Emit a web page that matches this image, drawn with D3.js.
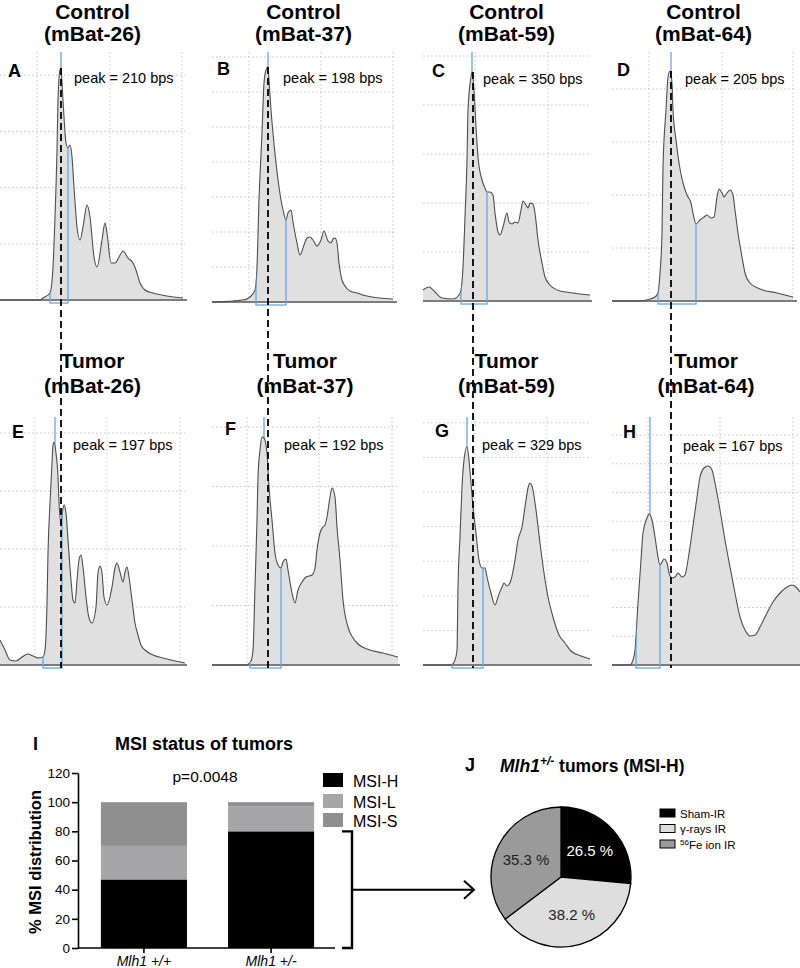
<!DOCTYPE html>
<html><head><meta charset="utf-8">
<script src="https://cdn.jsdelivr.net/npm/d3@7"></script>
<style>
body{margin:0;background:#fff;}
svg{display:block;font-family:"Liberation Sans",Arial,Helvetica,sans-serif;}
</style></head><body>
<svg id="fig" width="800" height="968"></svg>
<script>
// ================= DATA =================
const sampleIds = ["mBat-26","mBat-37","mBat-59","mBat-64"];
const controlPeaks = [210,198,350,205];
const tumorPeaks = [197,192,329,167];

// electropherogram traces: [scan position, signal (RFU/10)]
const traceA = [[0,0],[40,0],[43,2],[50,7],[53,33],[55,83],[57,150],[58,200],[60,230],[61,232],[62,217],[64,183],[66,157],[68,152],[70,155],[72,143],[74,113],[77,73],[80,60],[83,73],[87,95],[90,83],[94,43],[97,33],[102,60],[105,77],[107,67],[111,37],[115,37],[119,43],[123,49],[128,42],[133,37],[136,30],[140,17],[145,10],[153,7],[167,4],[183,2]];
const traceB = [[0,0],[31,2],[38,5],[43,12],[45,35],[47,102],[50,169],[52,219],[54,232],[56,235],[57,222],[59,192],[61,169],[64,139],[67,115],[71,92],[74,82],[76,89],[79,92],[81,80],[85,59],[88,47],[92,57],[95,64],[98,65],[101,62],[105,56],[109,62],[112,71],[116,61],[119,59],[121,63],[123,64],[125,59],[127,39],[130,22],[133,16],[138,11],[145,9],[155,6],[168,4],[181,3]];
const traceC = [[0,11],[6,14],[12,9],[19,3],[30,2],[36,6],[38,11],[40,34],[42,84],[44,141],[45,191],[48,224],[49,229],[51,211],[53,174],[55,144],[59,121],[62,113],[64,109],[67,109],[70,106],[72,88],[75,69],[77,66],[80,74],[84,88],[86,79],[89,77],[92,79],[95,78],[98,91],[100,100],[103,96],[105,93],[107,98],[110,97],[112,88],[115,61],[119,38],[122,24],[127,16],[137,10],[150,8],[167,6]];
const traceD = [[0,0],[28,0],[38,2],[43,4],[46,8],[48,28],[50,68],[51,134],[54,191],[56,224],[58,230],[60,218],[61,191],[64,161],[67,138],[71,118],[75,106],[79,98],[81,88],[84,77],[88,81],[92,84],[95,86],[99,83],[102,84],[105,104],[107,112],[110,108],[112,104],[115,108],[118,111],[121,106],[123,91],[126,68],[130,44],[133,28],[138,18],[148,12],[165,8],[181,4]];
const traceE = [[0,25],[5,15],[10,5],[16,4],[22,8],[28,11],[33,9],[38,7],[43,8],[45,15],[47,62],[48,112],[50,162],[52,202],[53,220],[54,223],[56,212],[58,188],[59,163],[61,142],[63,157],[64,160],[66,152],[68,125],[71,85],[73,65],[75,62],[77,85],[79,105],[81,110],[83,98],[86,68],[89,47],[92,42],[96,58],[98,92],[100,99],[102,92],[104,68],[107,60],[112,78],[115,97],[117,102],[120,93],[123,83],[125,93],[127,98],[129,88],[132,65],[135,42],[138,30],[141,20],[145,15],[153,10],[163,7],[175,4],[185,2]];
const traceF = [[0,0],[34,0],[39,4],[41,15],[43,78],[45,145],[46,188],[48,215],[50,228],[52,227],[55,212],[57,178],[60,145],[63,112],[66,100],[69,97],[71,103],[74,106],[76,95],[80,72],[83,62],[86,75],[90,83],[94,88],[100,90],[103,97],[105,115],[108,132],[111,138],[113,140],[115,148],[118,168],[120,177],[123,168],[125,138],[128,105],[131,65],[136,38],[141,27],[146,21],[155,16],[171,12],[186,8]];
const traceG = [[0,0],[28,0],[32,5],[34,15],[35,78],[37,128],[39,178],[41,205],[44,218],[46,205],[48,182],[50,158],[53,132],[56,105],[59,97],[62,97],[64,88],[68,72],[72,60],[75,68],[79,78],[81,82],[84,79],[88,85],[92,105],[95,125],[99,138],[102,158],[105,177],[107,182],[110,175],[113,155],[117,122],[121,92],[125,68],[130,48],[136,30],[142,22],[148,14],[158,9],[167,6]];
const traceH = [[0,0],[18,0],[21,5],[23,15],[26,62],[29,105],[31,132],[35,147],[37,151],[40,145],[43,128],[46,108],[48,100],[50,103],[52,106],[55,102],[57,92],[60,87],[63,88],[66,92],[70,88],[73,90],[76,105],[80,132],[85,168],[88,188],[92,197],[96,199],[100,195],[103,182],[108,155],[113,125],[118,98],[123,72],[128,48],[133,35],[138,29],[143,30],[148,38],[155,52],[161,63],[168,72],[175,78],[180,80],[185,77],[188,73]];

const panelLetters = ["A","B","C","D","E","F","G","H"];
const peakScan = [61,56,49,59,55,52,44,38];      // called peak (scan position)
const binLo = [50,44,38,46,43,38,29,24];          // allele bin
const binHi = [68,74,64,84,62,69,60,48];
const controlRefScan = [61,56,50,59];             // control peak reference (dashed)
const scanMax = [185,183,167,183,185,186,167,188];
const rfuGridStep = [56.2,35,49,53,58,59.5,34.6,28.75];
const scanGrid = [[37,110,182],[37,109,181],[52,125],[37,110,181],[35,107,180],[35,107,180],[52,124],[36,108,181]];

// MSI status bar chart
const genotypes = ["Mlh1 +/+","Mlh1 +/-"];
const msiH = [47,80];
const msiL = [23,17];
const msiS = [30,3];
const msiKeys = ["MSI-H","MSI-L","MSI-S"];
const pctTicks = [0,20,40,60,80,100,120];

// pie
const irGroups = ["Sham-IR","γ-rays IR","Fe ion IR"];
const irShare = [26.5,38.2,35.3];

// ================= LAYOUT =================
const svg = d3.select("#fig");
const colLeft = [0,212,423,612];
const rowBase = [[300,302,301,301],[665,665,665,665]];
const rowTop = [52,417];
const letterDx = [8,5,9,5,12,13,12,11];
const letterY = [77,75,77,76,438,435,437,438];
const peakDx = [74,71,60,73,73,72,59,71];
const peakY = [83,83,84,84,450,450,450,451];
const titleY = [[19,41],[368,393]];
const BLUE = "#62a8ee";
const traces = [traceA,traceB,traceC,traceD,traceE,traceF,traceG,traceH];
const peaks = controlPeaks.concat(tumorPeaks);

const scales = [];
traces.forEach((tr,i)=>{
  const row = i<4?0:1, col = i%4;
  const left = colLeft[col], base = rowBase[row][col], top = rowTop[row];
  const x = d3.scaleLinear([0,scanMax[i]],[left,left+scanMax[i]]);
  const y = d3.scaleLinear([0,base-top],[base,top]);
  scales.push({x,y});
  const g = svg.append("g");
  // grid
  const yt = d3.range(rfuGridStep[i], base-top+0.01, rfuGridStep[i]);
  g.selectAll(".hg").data(yt).join("line")
    .attr("x1",x(0)).attr("x2",x(scanMax[i])).attr("y1",d=>y(d)).attr("y2",d=>y(d))
    .attr("stroke","#c4c4c4").attr("stroke-dasharray","1.5,2.5");
  g.selectAll(".vg").data(scanGrid[i]).join("line")
    .attr("x1",d=>x(d)).attr("x2",d=>x(d)).attr("y1",y(base-top)).attr("y2",y(0))
    .attr("stroke","#c4c4c4").attr("stroke-dasharray","1.5,2.5");
  // peak marker (under fill)
  g.append("line").attr("x1",x(peakScan[i])).attr("x2",x(peakScan[i]))
    .attr("y1",y(base-top)).attr("y2",y(0)).attr("stroke",BLUE).attr("stroke-width",1.3);
  const area = d3.area().x(d=>x(d[0])).y0(y(0)).y1(d=>y(d[1])).curve(d3.curveMonotoneX);
  g.append("path").datum(tr).attr("d",area).attr("fill","#e0e0e0");
  g.append("line").attr("x1",x(0)).attr("x2",x(scanMax[i])+2).attr("y1",y(0)).attr("y2",y(0))
    .attr("stroke","#7c7c7c").attr("stroke-width",1.8);
  const line = d3.line().x(d=>x(d[0])).y(d=>y(d[1])).curve(d3.curveMonotoneX);
  g.append("path").datum(tr).attr("d",line).attr("fill","none").attr("stroke","#4e4e4e").attr("stroke-width",1.1);
  // bin box clipped to fill
  const clipArea = d3.area().x(d=>x(d[0])).y0(y(0)+5).y1(d=>y(d[1])).curve(d3.curveMonotoneX);
  g.append("clipPath").attr("id","clip"+i).append("path").datum(tr).attr("d",clipArea);
  g.append("rect").attr("clip-path",`url(#clip${i})`)
    .attr("x",x(binLo[i])).attr("width",x(binHi[i])-x(binLo[i]))
    .attr("y",y(base-top)).attr("height",y(0)+3-y(base-top))
    .attr("fill","none").attr("stroke",BLUE).attr("stroke-width",1.3);
  // texts
  const cx = left + scanMax[i]/2;
  const t = svg.append("text").attr("text-anchor","middle").attr("font-weight","bold").attr("font-size",21);
  t.append("tspan").attr("x",cx).attr("y",titleY[row][0]).text(row===0?"Control":"Tumor");
  t.append("tspan").attr("x",cx).attr("y",titleY[row][1]).text("("+sampleIds[col]+")");
  svg.append("text").attr("x",left+letterDx[i]).attr("y",letterY[i]).attr("font-weight","bold")
    .attr("font-size",18).text(panelLetters[i]);
  svg.append("text").attr("x",left+peakDx[i]).attr("y",peakY[i]).attr("font-size",14.5)
    .text(`peak = ${peaks[i]} bps`);
});

// dashed reference lines from control peak to tumor panel
controlRefScan.forEach((s,c)=>{
  const sc = scales[c];
  const pk = d3.max(traces[c],d=>d[1]);
  svg.append("line").attr("x1",sc.x(s)).attr("x2",sc.x(s))
    .attr("y1",sc.y(pk)).attr("y2",rowBase[1][c]+3)
    .attr("stroke","#000").attr("stroke-width",1.8).attr("stroke-dasharray","7,4");
});

// ================= BAR CHART (I) =================
const yB = d3.scaleLinear([0,120],[948,773]);
const xB = d3.scaleBand(genotypes,[78,337]).paddingInner(0.323).paddingOuter(0.18);
const barColors = {"MSI-H":"#000000","MSI-L":"#a6a6a9","MSI-S":"#8f8f8f"};
const rows = genotypes.map((g,i)=>({g,"MSI-H":msiH[i],"MSI-L":msiL[i],"MSI-S":msiS[i]}));
const stacked = d3.stack().keys(msiKeys)(rows);
const gb = svg.append("g");
gb.selectAll("g.s").data(stacked).join("g").attr("fill",d=>barColors[d.key])
  .selectAll("rect").data(d=>d).join("rect")
  .attr("x",d=>xB(d.data.g)).attr("width",xB.bandwidth())
  .attr("y",d=>yB(d[1])).attr("height",d=>yB(d[0])-yB(d[1]));

const ya = svg.append("g").attr("transform","translate(78,0)")
  .call(d3.axisLeft(yB).tickValues(pctTicks).tickSize(6).tickSizeOuter(0).tickPadding(2));
ya.select(".domain").attr("stroke-width",1.6);
ya.selectAll(".tick line").attr("stroke-width",1.6);
ya.selectAll("text").attr("font-size",13.5).attr("font-family","Liberation Sans, Arial, sans-serif").attr("fill","#000");
const xa = svg.append("g").attr("transform","translate(0,948)")
  .call(d3.axisBottom(xB).tickSize(5).tickSizeOuter(0).tickPadding(3));
xa.select(".domain").attr("stroke-width",1.6).attr("d","M78,0H335");
xa.selectAll(".tick line").attr("stroke-width",1.6);
xa.selectAll("text").attr("font-size",14).attr("font-style","italic")
  .attr("font-family","Liberation Sans, Arial, sans-serif").attr("fill","#000");

svg.append("text").attr("transform","translate(41,862) rotate(-90)").attr("text-anchor","middle")
  .attr("font-weight","bold").attr("font-size",16.5).text("% MSI distribution");
svg.append("text").attr("x",33).attr("y",750).attr("font-weight","bold").attr("font-size",18).text("I");
svg.append("text").attr("x",204).attr("y",750).attr("text-anchor","middle").attr("font-weight","bold")
  .attr("font-size",18).text("MSI status of tumors");
svg.append("text").attr("x",205).attr("y",782).attr("text-anchor","middle").attr("font-size",15.5).text("p=0.0048");

const lg = svg.append("g");
msiKeys.forEach((k,i)=>{
  const yy = [773,794,813][i];
  lg.append("rect").attr("x",323).attr("y",yy).attr("width",20).attr("height",14).attr("fill",barColors[k]);
  lg.append("text").attr("x",353).attr("y",yy+13.5).attr("font-size",16).text(k);
});

// bracket + arrow
const bTop = yB(msiH[1]), bBot = yB(0);
svg.append("path").attr("d",`M342,${bTop}H352V${bBot}H342`).attr("fill","none").attr("stroke","#000").attr("stroke-width",2.4);
const ay = (bTop+bBot)/2;
svg.append("path").attr("d",`M352,${ay}H473`).attr("stroke","#000").attr("stroke-width",2);
svg.append("path").attr("d",`M464,${ay-9}L474,${ay}L464,${ay+9}`).attr("fill","none").attr("stroke","#000").attr("stroke-width",2);

// ================= PIE (J) =================
svg.append("text").attr("x",465).attr("y",771).attr("font-weight","bold").attr("font-size",18).text("J");
const jt = svg.append("text").attr("x",500).attr("y",772).attr("font-weight","bold").attr("font-size",17.5);
jt.append("tspan").attr("font-style","italic").text("Mlh1");
jt.append("tspan").attr("font-style","italic").attr("font-size",12).attr("dy",-7).text("+/-");
jt.append("tspan").attr("dy",7).text(" tumors (MSI-H)");

const pieColors = ["#000000","#dedede","#9a9a9a"];
const pieData = d3.pie().sort(null).value(d=>d)(irShare);
const arc = d3.arc().innerRadius(0).outerRadius(70);
const labelArc = d3.arc().innerRadius(39).outerRadius(39);
const gp = svg.append("g").attr("transform","translate(561,877)");
gp.selectAll("path").data(pieData).join("path").attr("d",arc)
  .attr("fill",(d,i)=>pieColors[i]).attr("stroke","#000").attr("stroke-width",1.3);
gp.selectAll("text").data(pieData).join("text")
  .attr("transform",d=>`translate(${labelArc.centroid(d)})`).attr("dy","0.36em")
  .attr("text-anchor","middle").attr("font-size",15)
  .attr("fill",(d,i)=>i===0?"#fff":"#222").text(d=>d.data.toFixed(1)+" %");

const pl = svg.append("g");
irGroups.forEach((k,i)=>{
  const yy = 809 + i*15.5;
  pl.append("rect").attr("x",660).attr("y",yy).attr("width",15).attr("height",8)
    .attr("fill",pieColors[i]).attr("stroke","#000").attr("stroke-width",1);
  const t = pl.append("text").attr("x",680).attr("y",yy+8.5).attr("font-size",11.5);
  if(i===2){ t.append("tspan").attr("font-size",8).attr("dy",-4).text("56"); t.append("tspan").attr("dy",4).text(k); }
  else t.text(k);
});
</script>
</body></html>
